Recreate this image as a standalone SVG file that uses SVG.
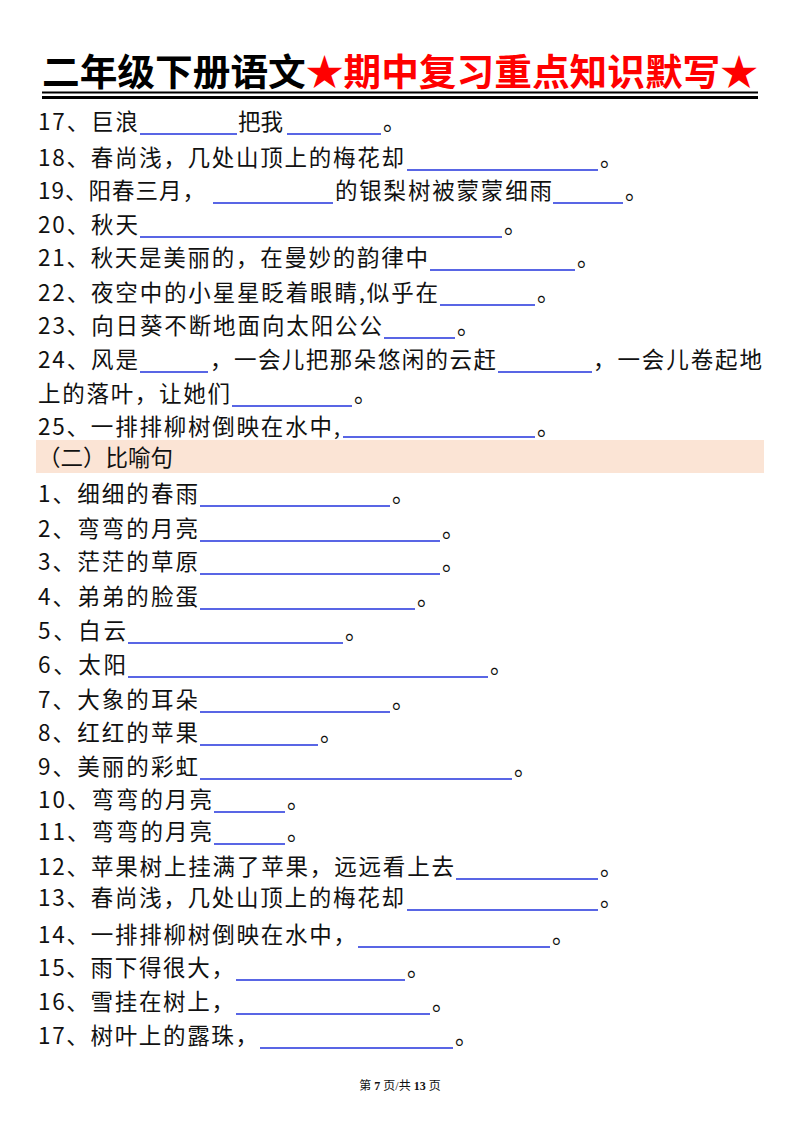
<svg xmlns="http://www.w3.org/2000/svg" width="800" height="1132" viewBox="0 0 800 1132">
<style>
.t{font-family:"Noto Sans CJK SC","Noto Sans",sans-serif;font-size:22.5px;fill:#111}
.u line{stroke:#2233dd;stroke-width:1.6}
.ti{font-family:"Noto Sans CJK SC",sans-serif;font-size:37px;font-weight:bold}
.f{font-family:"Liberation Serif","Noto Sans CJK SC",serif;font-size:12px;fill:#111}
</style>
<rect width="800" height="1132" fill="#fff"/>
<g id="title">
<text class="ti" x="42" y="86" textLength="716" lengthAdjust="spacingAndGlyphs"><tspan fill="#000">二年级下册语文</tspan><tspan fill="#f00">★期中复习重点知识默写★</tspan></text>
<line x1="42" y1="92.5" x2="758" y2="92.5" stroke="#000" stroke-width="2"/>
<line x1="42" y1="97.5" x2="758" y2="97.5" stroke="#000" stroke-width="3"/>
</g>
<g id="header"><rect x="36" y="440" width="728" height="33" fill="#fbe4d5"/>
<text class="t" x="38" y="466">（二）比喻句</text></g>
<g id="text">
<text class="t" x="38" y="130" textLength="100">17、巨浪</text><text class="t" x="238" y="130">把我</text><text class="t" x="383" y="130">。</text>
<text class="t" x="38" y="166" textLength="366">18、春尚浅，几处山顶上的梅花却</text><text class="t" x="600" y="166">。</text>
<text class="t" x="38" y="199" textLength="167">19、阳春三月，</text><text class="t" x="335" y="199" textLength="217">的银梨树被蒙蒙细雨</text><text class="t" x="625" y="199">。</text>
<text class="t" x="38" y="233" textLength="100">20、秋天</text><text class="t" x="504" y="233">。</text>
<text class="t" x="38" y="266" textLength="390">21、秋天是美丽的，在曼妙的韵律中</text><text class="t" x="577" y="266">。</text>
<text class="t" x="38" y="301" textLength="400">22、夜空中的小星星眨着眼睛,似乎在</text><text class="t" x="537" y="301">。</text>
<text class="t" x="38" y="334" textLength="344">23、向日葵不断地面向太阳公公</text><text class="t" x="457" y="334">。</text>
<text class="t" x="38" y="368" textLength="100">24、风是</text><text class="t" x="210" y="368" textLength="286">，一会儿把那朵悠闲的云赶</text><text class="t" x="593" y="368" textLength="169">，一会儿卷起地</text>
<text class="t" x="38" y="402" textLength="192">上的落叶，让她们</text><text class="t" x="354" y="402">。</text>
<text class="t" x="38" y="435" textLength="302">25、一排排柳树倒映在水中,</text><text class="t" x="537" y="435">。</text>
<text class="t" x="38" y="502" textLength="160">1、细细的春雨</text><text class="t" x="392" y="502">。</text>
<text class="t" x="38" y="537" textLength="160">2、弯弯的月亮</text><text class="t" x="442" y="537">。</text>
<text class="t" x="38" y="570" textLength="160">3、茫茫的草原</text><text class="t" x="442" y="570">。</text>
<text class="t" x="38" y="605" textLength="160">4、弟弟的脸蛋</text><text class="t" x="417" y="605">。</text>
<text class="t" x="38" y="639" textLength="88">5、白云</text><text class="t" x="345" y="639">。</text>
<text class="t" x="38" y="673" textLength="88">6、太阳</text><text class="t" x="490" y="673">。</text>
<text class="t" x="38" y="708" textLength="160">7、大象的耳朵</text><text class="t" x="392" y="708">。</text>
<text class="t" x="38" y="741" textLength="160">8、红红的苹果</text><text class="t" x="320" y="741">。</text>
<text class="t" x="38" y="775" textLength="160">9、美丽的彩虹</text><text class="t" x="514" y="775">。</text>
<text class="t" x="38" y="808" textLength="174">10、弯弯的月亮</text><text class="t" x="287" y="808">。</text>
<text class="t" x="38" y="840" textLength="174">11、弯弯的月亮</text><text class="t" x="287" y="840">。</text>
<text class="t" x="38" y="875" textLength="416">12、苹果树上挂满了苹果，远远看上去</text><text class="t" x="600" y="875">。</text>
<text class="t" x="38" y="906" textLength="366">13、春尚浅，几处山顶上的梅花却</text><text class="t" x="600" y="906">。</text>
<text class="t" x="38" y="943" textLength="318">14、一排排柳树倒映在水中，</text><text class="t" x="552" y="943">。</text>
<text class="t" x="38" y="976" textLength="196">15、雨下得很大，</text><text class="t" x="407" y="976">。</text>
<text class="t" x="38" y="1010" textLength="196">16、雪挂在树上，</text><text class="t" x="432" y="1010">。</text>
<text class="t" x="38" y="1044" textLength="220">17、树叶上的露珠，</text><text class="t" x="455" y="1044">。</text>
</g>
<g id="connectors" class="u">
<line x1="140" y1="134" x2="237" y2="134"/><line x1="287" y1="134" x2="381" y2="134"/>
<line x1="407" y1="170" x2="598" y2="170"/>
<line x1="213" y1="203" x2="333" y2="203"/><line x1="553" y1="203" x2="623" y2="203"/>
<line x1="140" y1="237" x2="502" y2="237"/>
<line x1="430" y1="270" x2="575" y2="270"/>
<line x1="440" y1="305" x2="535" y2="305"/>
<line x1="384" y1="338" x2="455" y2="338"/>
<line x1="140" y1="372" x2="208" y2="372"/><line x1="498" y1="372" x2="592" y2="372"/>
<line x1="232" y1="406" x2="352" y2="406"/>
<line x1="343" y1="437" x2="535" y2="437"/>
<line x1="200" y1="506" x2="390" y2="506"/>
<line x1="200" y1="541" x2="440" y2="541"/>
<line x1="200" y1="574" x2="440" y2="574"/>
<line x1="200" y1="609" x2="415" y2="609"/>
<line x1="128" y1="643" x2="343" y2="643"/>
<line x1="128" y1="677" x2="488" y2="677"/>
<line x1="200" y1="712" x2="390" y2="712"/>
<line x1="200" y1="745" x2="318" y2="745"/>
<line x1="200" y1="779" x2="512" y2="779"/>
<line x1="214" y1="812" x2="285" y2="812"/>
<line x1="214" y1="844" x2="285" y2="844"/>
<line x1="456" y1="879" x2="598" y2="879"/>
<line x1="407" y1="910" x2="598" y2="910"/>
<line x1="358" y1="947" x2="550" y2="947"/>
<line x1="236" y1="980" x2="405" y2="980"/>
<line x1="236" y1="1014" x2="430" y2="1014"/>
<line x1="260" y1="1048" x2="453" y2="1048"/>
</g>
<g id="footer"><text class="f" x="400" y="1090" text-anchor="middle">第 <tspan font-weight="bold">7</tspan> 页/共 <tspan font-weight="bold">13</tspan> 页</text></g>
</svg>
